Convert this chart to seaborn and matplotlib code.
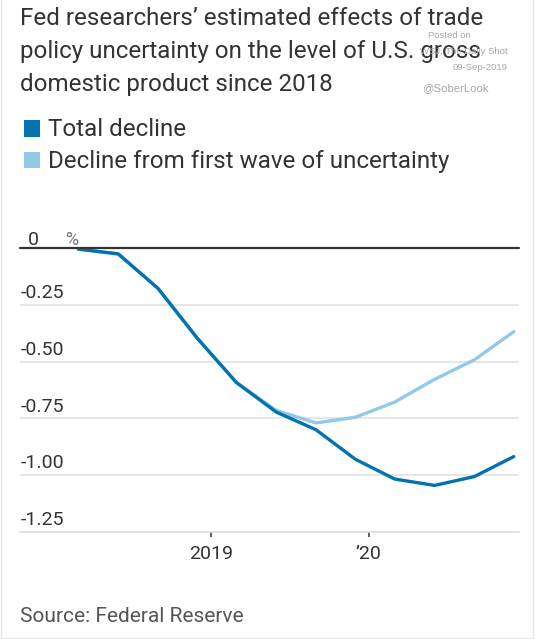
import matplotlib
matplotlib.use("Agg")
import matplotlib.pyplot as plt
import matplotlib.transforms as mtransforms
from matplotlib.patches import Rectangle
from matplotlib.lines import Line2D
import pandas as pd
import seaborn as sns

# ---------------- data ----------------
quarters = ["2018-03-01", "2018-06-01", "2018-09-01", "2018-12-01",
            "2019-03-01", "2019-06-01", "2019-09-01", "2019-12-01",
            "2020-03-01", "2020-06-01", "2020-09-01", "2020-12-01"]
total_decline = [-0.005, -0.026, -0.178, -0.398, -0.592, -0.722,
                 -0.800, -0.930, -1.017, -1.045, -1.006, -0.918]
first_wave = [-0.005, -0.026, -0.178, -0.398, -0.592, -0.715,
              -0.770, -0.745, -0.678, -0.578, -0.492, -0.368]
series_names = ["Total decline", "Decline from first wave of uncertainty"]
y_ticks = [0, -0.25, -0.50, -0.75, -1.00, -1.25]
y_tick_labels = ["0", "-0.25", "-0.50", "-0.75", "-1.00", "-1.25"]
x_ticks = ["2019-01-01", "2020-01-01"]
x_tick_labels = ["2019", "\u201920"]

title_lines = ["Fed researchers\u2019 estimated effects of trade",
               "policy uncertainty on the level of U.S. gross",
               "domestic product since 2018"]
source_text = "Source: Federal Reserve"

DARK = "#0273ae"
LIGHT = "#92c8ec"
TXT = "#333333"

df = pd.DataFrame({
    "date": pd.to_datetime(quarters * 2),
    "value": total_decline + first_wave,
    "series": [series_names[0]] * len(quarters) + [series_names[1]] * len(quarters),
})

# ---------------- figure ----------------
sns.set_theme(style="white")
plt.rcParams["font.family"] = ["Roboto", "DejaVu Sans"]

W, H = 541, 639
fig = plt.figure(figsize=(W / 100, H / 100), dpi=100)
fig.patch.set_facecolor("white")


def fx(x):
    return x / W


def fy(y):
    return 1 - y / H


ax_left, ax_right, ax_top, ax_bottom = 20, 519, 248, 532
ax = fig.add_axes([fx(ax_left), fy(ax_bottom), (ax_right - ax_left) / W, (ax_bottom - ax_top) / H])
ax.set_facecolor("white")

# light series first (underneath), then dark
sns.lineplot(data=df[df["series"] == series_names[1]], x="date", y="value",
             color=LIGHT, lw=2.4, ax=ax, legend=False, zorder=3)
sns.lineplot(data=df[df["series"] == series_names[0]], x="date", y="value",
             color=DARK, lw=2.4, ax=ax, legend=False, zorder=4)

ax.set_ylim(-1.25, 0)
ax.set_xlim(pd.Timestamp("2017-10-17"), pd.Timestamp("2020-12-13"))
ax.set_xlabel("")
ax.set_ylabel("")

for s in ["top", "right", "left"]:
    ax.spines[s].set_visible(False)
ax.spines["bottom"].set_color("#dddddd")
ax.spines["bottom"].set_linewidth(1.2)

ax.set_yticks(y_ticks)
ax.set_yticklabels([])
ax.tick_params(axis="y", length=0)
ax.yaxis.grid(True, color="#e2e2e2", lw=1.2, zorder=0)
ax.axhline(0, color="#333333", lw=1.6, zorder=5, clip_on=False)

ax.set_xticks(pd.to_datetime(x_ticks))
ax.set_xticklabels(x_tick_labels)
ax.tick_params(axis="x", direction="out", length=3.3, width=1.1, color="#333333",
               pad=6, labelsize=14, labelcolor=TXT, bottom=True)

# y labels above gridlines
trans = mtransforms.blended_transform_factory(ax.transAxes, ax.transData)
for v, lab in zip(y_ticks, y_tick_labels):
    if v == 0:
        continue
    ax.text(0.002, v + 0.012, lab, transform=trans, ha="left", va="bottom",
            fontsize=14, color=TXT, clip_on=False)
fig.text(fx(28), fy(245), y_tick_labels[0], ha="left", va="baseline", fontsize=14, color=TXT)
fig.text(fx(65), fy(245), "%", ha="left", va="baseline", fontsize=13, color="#777777")

# title
for i, line in enumerate(title_lines):
    fig.text(fx(20), fy(25 + i * 32.8), line, ha="left", va="baseline",
             fontsize=17.4, color=TXT)

# legend
leg_y = [136.5, 168.5]
leg_cols = [DARK, LIGHT]
for yb, c, name in zip(leg_y, leg_cols, series_names):
    fig.add_artist(Rectangle((fx(23.5), fy(yb)), 16.5 / W, 16 / H, transform=fig.transFigure,
                             facecolor=c, edgecolor="none"))
    fig.text(fx(48), fy(yb), name, ha="left", va="baseline", fontsize=17.4, color=TXT)

# watermark
wm = dict(family=["Liberation Sans", "DejaVu Sans"], color="#a8a8a8")
fig.text(fx(449), fy(37.5), "Posted on", ha="center", va="baseline", fontsize=6.8, **wm)
fig.text(fx(508), fy(54), "WSJ, The Daily Shot", ha="right", va="baseline", fontsize=6.8, **wm)
fig.text(fx(508), fy(70), "09-Sep-2019", ha="right", va="baseline", fontsize=6.8, **wm)
fig.text(fx(455), fy(91), "@SoberLook", ha="center", va="baseline", fontsize=8.2, **wm)

# source
fig.text(fx(20.5), fy(621.5), source_text, ha="left", va="baseline", fontsize=15, color="#555555")

# faint frame
for (x0, y0, x1, y1) in [(1, 0, 1, 638), (533, 0, 533, 638), (1, 638, 533, 638)]:
    fig.add_artist(Line2D([fx(x0), fx(x1)], [fy(y0), fy(y1)], transform=fig.transFigure,
                          color="#e6e6e6", lw=1))

fig.savefig("out.png", dpi=100, facecolor="white")
